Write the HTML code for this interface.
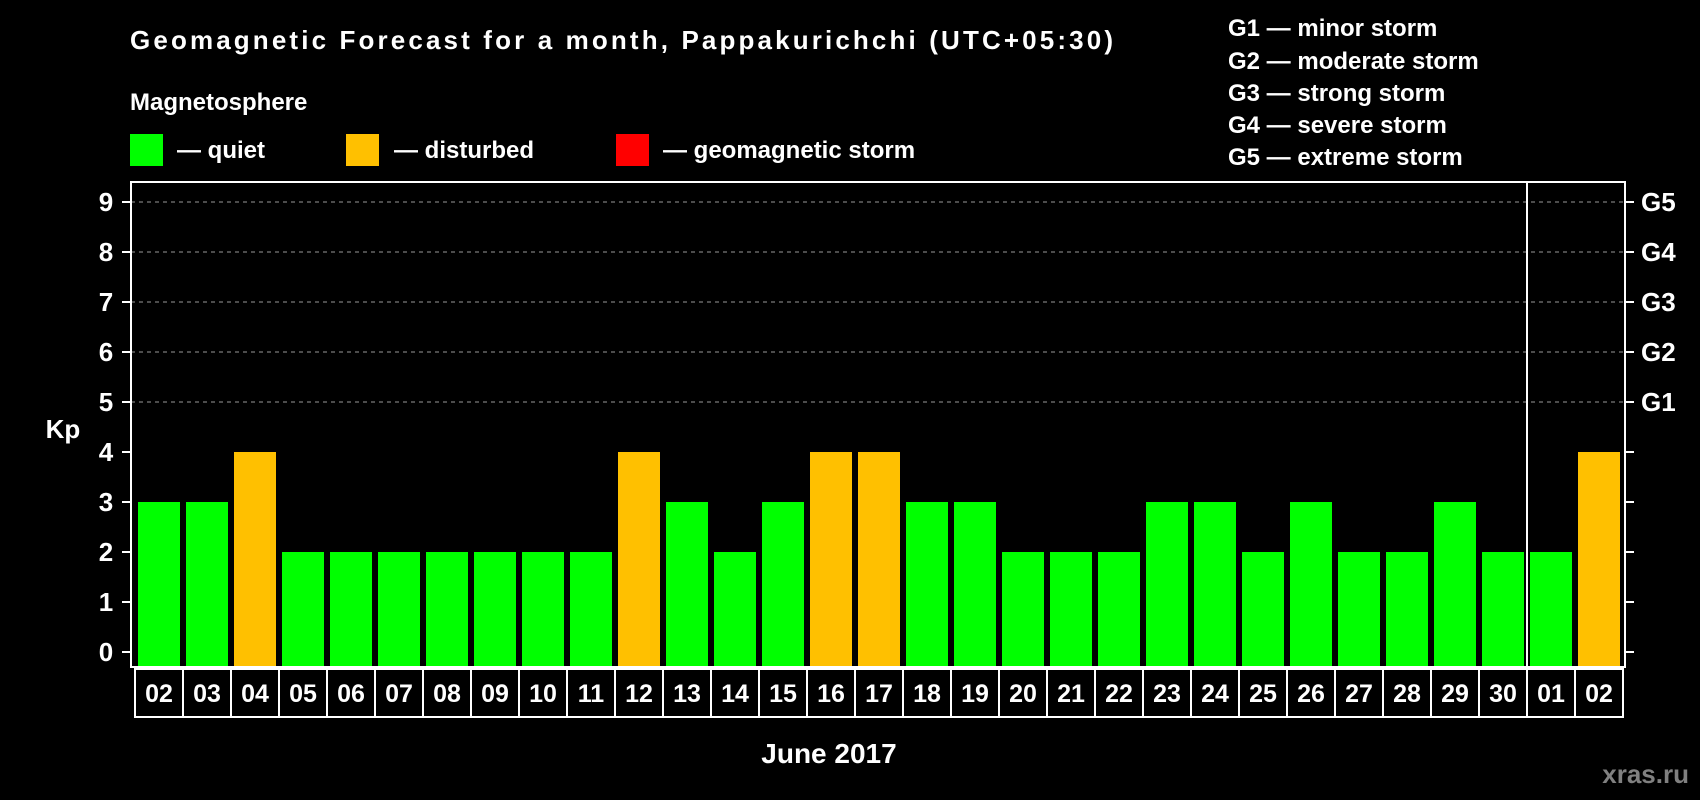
<!DOCTYPE html>
<html><head><meta charset="utf-8"><style>
html,body{margin:0;padding:0;background:#000;}
svg{display:block;font-family:"Liberation Sans",Arial,sans-serif;font-weight:bold;}
</style></head><body>
<svg id="chart" width="1700" height="800" viewBox="0 0 1700 800">
<rect width="1700" height="800" fill="#000"/>
<text x="130" y="49" font-size="26" fill="#fff" textLength="983">Geomagnetic Forecast for a month, Pappakurichchi (UTC+05:30)</text>
<text x="130" y="110" font-size="24" fill="#fff">Magnetosphere</text>
<g><rect x="130" y="134" width="33" height="32" fill="#00ff00"/><text x="177" y="158" font-size="24" fill="#fff">— quiet</text></g>
<g><rect x="346" y="134" width="33" height="32" fill="#ffc000"/><text x="394" y="158" font-size="24" fill="#fff">— disturbed</text></g>
<g><rect x="616" y="134" width="33" height="32" fill="#ff0000"/><text x="663" y="158" font-size="24" fill="#fff">— geomagnetic storm</text></g>
<g font-size="24" fill="#fff">
<text x="1228" y="36">G1 — minor storm</text>
<text x="1228" y="69">G2 — moderate storm</text>
<text x="1228" y="101">G3 — strong storm</text>
<text x="1228" y="133">G4 — severe storm</text>
<text x="1228" y="165">G5 — extreme storm</text>
</g>
<text x="63" y="438" font-size="26" fill="#fff" text-anchor="middle">Kp</text>
<text x="829" y="763" font-size="28" fill="#fff" text-anchor="middle">June 2017</text>
<text x="1689" y="783" font-size="26" fill="#808080" text-anchor="end">xras.ru</text>
<g id="plot"></g>
</svg>
<script>
const days = ["02","03","04","05","06","07","08","09","10","11","12","13","14","15","16","17","18","19","20","21","22","23","24","25","26","27","28","29","30","01","02"];
const kpValues = [3,3,4,2,2,2,2,2,2,2,4,3,2,3,4,4,3,3,2,2,2,3,3,2,3,2,2,3,2,2,4];
const yTicks = [0,1,2,3,4,5,6,7,8,9];
const gLabels = ["G1","G2","G3","G4","G5"];
const monthBreak = 29;

const NS="http://www.w3.org/2000/svg";
const plot=document.getElementById('plot');
const L=131,R=1625,T=182,B=667;
const y=v=>652-v*50;
const pitch=(R-L-6)/days.length;
const bx=i=>L+7+i*pitch;
const bw=pitch-6;
function mk(tag,attrs){const e=document.createElementNS(NS,tag);for(const k in attrs)e.setAttribute(k,attrs[k]);plot.appendChild(e);return e;}

yTicks.forEach(v=>{
  if(v>=5){const g=mk('line',{x1:L,x2:R,y1:y(v),y2:y(v),stroke:'#999','stroke-dasharray':'4,4','stroke-width':1});
  
  }
  const t1=mk('line',{x1:L-9,x2:L,y1:y(v),y2:y(v),stroke:'#fff','stroke-width':2});
  
  
  const t2=mk('line',{x1:R,x2:R+9,y1:y(v),y2:y(v),stroke:'#fff','stroke-width':2});
  
  
  const tx=mk('text',{x:106,y:y(v)+9,'font-size':26,fill:'#fff','text-anchor':'middle'});
  tx.textContent=v;
  
  
});
gLabels.forEach((g,i)=>{
  const tx=mk('text',{x:1641,y:y(5+i)+9,'font-size':26,fill:'#fff'});
  tx.textContent=g;
  
  
});
kpValues.forEach((v,i)=>{
  const r=mk('rect',{x:bx(i),y:y(v),width:bw,height:B-y(v),fill:v>=5?'#ff0000':(v>=4?'#ffc000':'#00ff00')});
  
  
});
const fr=mk('rect',{x:L,y:T,width:R-L,height:B-T,fill:'none',stroke:'#fff','stroke-width':2});


const sepX=bx(monthBreak)-3;
const sp=mk('line',{x1:sepX,x2:sepX,y1:T,y2:B,stroke:'#fff','stroke-width':2});


days.forEach((d,i)=>{
  const x0=L+4+i*pitch;
  const b=mk('rect',{x:x0,y:669,width:pitch,height:48,fill:'#000',stroke:'#fff','stroke-width':2});
  
  
  const t=mk('text',{x:x0+pitch/2,y:702,'font-size':25,fill:'#fff','text-anchor':'middle'});
  t.textContent=d;
  
  
});
</script>
</body></html>
